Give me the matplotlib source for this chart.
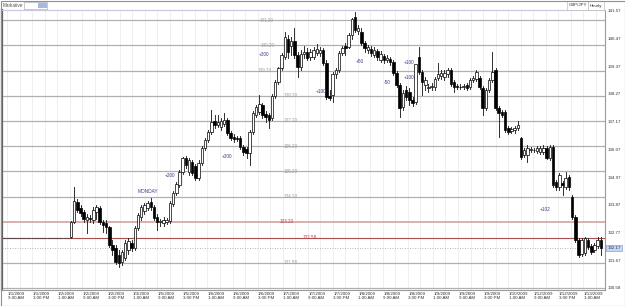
import matplotlib
matplotlib.use("Agg")
import matplotlib.pyplot as plt
import numpy as np
from matplotlib.patches import Rectangle
import matplotlib.transforms as mtrans

plt.rcParams['font.family'] = ['Liberation Sans', 'DejaVu Sans']

# ---------------- data ----------------
flat_price = 132.58
n_flat = 21

opens = [132.60, 133.20, 133.99, 133.75, 133.59, 133.28, 133.36, 133.28, 133.59, 133.75,
         133.20, 133.16, 133.00, 132.29, 132.17, 131.89, 131.62, 131.77, 132.09, 132.37,
         132.17, 132.96, 133.39, 133.63, 133.75, 133.99, 133.79, 133.39, 133.20, 133.16,
         133.20, 133.24, 133.91, 134.34, 134.66, 135.18, 135.73, 135.18, 135.57, 135.41,
         134.94, 135.53, 136.12, 136.44, 136.76, 137.19, 137.03, 136.95, 137.07, 137.23,
         136.72, 136.56, 136.52, 136.52, 136.16, 136.08, 135.92, 136.76, 137.43, 137.55,
         137.82, 137.47, 137.43, 137.31, 138.18, 138.73, 139.29, 139.72, 140.47, 140.19,
         140.39, 139.80, 139.36, 139.84, 139.92, 139.72, 139.72, 139.88, 139.88, 140.00,
         139.48, 138.20, 138.22, 139.05, 139.21, 139.88, 140.19, 140.12, 140.59, 141.34,
         140.75, 140.71, 140.31, 140.00, 140.04, 139.80, 139.96, 139.60, 139.76, 139.60,
         139.64, 139.52, 139.09, 138.61, 137.74, 138.42, 138.34, 138.02, 137.94, 139.72,
         139.13, 138.61, 138.49, 138.53, 138.53, 138.89, 138.97, 138.93, 139.05, 139.21,
         138.73, 138.57, 138.56, 138.53, 138.61, 138.53, 138.81, 138.85, 138.89, 138.49,
         137.70, 138.42, 138.81, 139.21, 137.70, 137.55, 137.55, 136.91, 136.79, 136.83,
         136.91, 136.52, 135.85, 135.85, 136.04, 136.04, 136.00, 135.96, 135.96, 136.12,
         135.73, 136.16, 134.78, 134.58, 134.74, 134.58, 134.98, 134.19, 133.39, 132.49,
         131.93, 131.97, 132.49, 132.25, 132.09, 132.25, 132.49]
highs = [133.24, 134.58, 134.11, 133.87, 133.67, 133.51, 133.47, 133.79, 133.87, 133.83,
         133.28, 133.28, 133.04, 132.49, 132.29, 132.09, 132.09, 132.49, 132.57, 132.49,
         133.04, 133.55, 133.87, 133.95, 134.03, 134.15, 133.87, 133.51, 133.32, 133.39,
         133.36, 134.03, 134.42, 134.78, 135.25, 135.77, 135.81, 135.73, 135.65, 135.49,
         135.65, 136.20, 136.52, 136.83, 137.62, 137.43, 137.43, 137.31, 137.51, 137.31,
         136.79, 136.68, 136.60, 136.60, 136.24, 136.16, 136.83, 137.58, 137.82, 138.22,
         137.90, 137.58, 137.51, 138.26, 138.81, 139.36, 139.88, 140.71, 140.59, 140.51,
         140.87, 139.92, 140.00, 140.19, 140.08, 140.04, 140.12, 140.27, 140.12, 140.08,
         139.60, 138.42, 139.13, 139.29, 139.96, 140.19, 140.31, 140.67, 141.30, 141.54,
         141.02, 140.87, 140.39, 140.23, 140.16, 140.12, 140.04, 139.96, 139.84, 139.80,
         139.72, 139.60, 139.17, 138.69, 138.42, 138.57, 138.49, 138.14, 139.29, 140.12,
         139.21, 138.93, 138.65, 138.69, 138.93, 139.48, 139.21, 139.21, 139.29, 139.29,
         138.81, 138.65, 138.65, 138.65, 138.69, 138.89, 138.97, 139.21, 138.97, 138.57,
         138.49, 138.89, 139.92, 139.29, 137.78, 137.62, 137.62, 136.99, 136.95, 136.99,
         137.19, 136.56, 136.12, 136.24, 136.16, 136.12, 136.20, 136.20, 136.24, 136.20,
         136.24, 136.24, 134.86, 135.14, 134.82, 135.18, 135.06, 134.26, 133.47, 132.57,
         132.57, 132.60, 132.57, 132.33, 132.37, 132.60, 132.60]
lows = [132.57, 133.16, 133.59, 133.43, 133.20, 132.76, 133.20, 133.16, 133.32, 133.12,
        132.80, 132.76, 132.21, 131.89, 131.54, 131.42, 131.50, 131.70, 131.93, 132.05,
        132.09, 132.88, 133.28, 133.51, 133.67, 133.67, 133.28, 132.88, 133.04, 133.04,
        133.12, 133.16, 133.83, 134.26, 134.58, 135.10, 135.33, 135.06, 135.06, 134.86,
        134.86, 135.45, 136.04, 136.36, 136.68, 136.91, 136.95, 136.83, 136.99, 136.64,
        136.44, 136.36, 136.40, 136.08, 135.85, 135.73, 135.45, 136.68, 137.35, 137.47,
        137.31, 137.15, 136.91, 137.23, 138.10, 138.65, 139.21, 139.64, 139.68, 139.80,
        139.68, 138.93, 139.21, 139.68, 139.60, 139.60, 139.64, 139.80, 139.76, 139.40,
        138.06, 138.02, 137.94, 138.89, 139.13, 139.80, 139.80, 140.08, 140.47, 140.71,
        140.63, 140.23, 139.92, 139.88, 139.76, 139.72, 139.60, 139.52, 139.48, 139.52,
        139.40, 139.01, 138.53, 137.35, 137.62, 138.02, 137.82, 137.78, 137.86, 139.05,
        138.22, 138.42, 138.34, 138.42, 138.42, 138.81, 138.85, 138.81, 138.93, 138.57,
        138.34, 138.45, 138.45, 138.45, 138.42, 138.45, 138.73, 138.77, 138.45, 137.43,
        137.62, 138.34, 138.73, 137.62, 136.56, 137.35, 136.76, 136.68, 136.72, 136.72,
        136.83, 135.69, 135.77, 135.57, 135.96, 135.96, 135.92, 135.88, 135.88, 135.69,
        135.65, 134.58, 134.46, 134.46, 134.26, 134.50, 134.46, 133.32, 132.41, 131.81,
        131.85, 131.89, 132.13, 131.93, 132.01, 132.17, 131.89]
closes = [133.20, 134.03, 133.67, 133.55, 133.32, 133.39, 133.32, 133.67, 133.79, 133.20,
          133.08, 133.00, 132.29, 132.09, 131.62, 131.58, 132.01, 132.37, 132.45, 132.17,
          132.96, 133.47, 133.79, 133.87, 133.95, 133.79, 133.36, 133.20, 133.21, 133.28,
          133.28, 133.95, 134.34, 134.70, 135.18, 135.73, 135.45, 135.65, 135.14, 134.94,
          135.53, 136.12, 136.44, 136.76, 137.15, 137.03, 137.15, 137.19, 137.23, 136.72,
          136.52, 136.50, 136.48, 136.16, 135.96, 135.92, 136.76, 137.51, 137.74, 137.86,
          137.43, 137.35, 137.23, 138.18, 138.73, 139.29, 139.80, 140.51, 139.92, 140.39,
          139.80, 139.36, 139.84, 139.92, 139.68, 139.92, 140.00, 140.04, 140.00, 139.48,
          138.14, 138.12, 139.05, 139.21, 139.88, 140.08, 140.08, 140.59, 141.26, 140.79,
          140.87, 140.31, 140.08, 140.12, 139.88, 140.00, 139.72, 139.84, 139.60, 139.68,
          139.52, 139.09, 138.61, 137.70, 138.30, 138.14, 138.02, 137.90, 139.44, 139.13,
          138.73, 138.81, 138.53, 138.57, 138.85, 139.05, 139.09, 139.09, 139.21, 138.65,
          138.53, 138.56, 138.53, 138.57, 138.49, 138.81, 138.89, 139.13, 138.53, 137.70,
          138.42, 138.81, 139.13, 137.70, 137.51, 137.43, 136.83, 136.76, 136.87, 136.91,
          137.03, 135.77, 136.04, 136.12, 136.08, 136.05, 136.12, 136.12, 136.12, 135.73,
          136.16, 134.66, 134.58, 135.06, 134.66, 134.94, 134.58, 133.39, 132.49, 131.89,
          132.49, 132.57, 132.21, 132.01, 132.29, 132.49, 132.17]

x_labels = ["1/1/2009\n9:00 AM", "1/1/2009\n3:00 PM", "1/2/2009\n1:00 AM", "1/2/2009\n9:00 AM",
            "1/2/2009\n3:00 PM", "1/3/2009\n1:00 AM", "1/5/2009\n9:00 AM", "1/5/2009\n3:00 PM",
            "1/6/2009\n1:00 AM", "1/6/2009\n9:00 AM", "1/6/2009\n3:00 PM", "1/7/2009\n1:00 AM",
            "1/7/2009\n9:00 AM", "1/7/2009\n3:00 PM", "1/8/2009\n1:00 AM", "1/8/2009\n9:00 AM",
            "1/8/2009\n3:00 PM", "1/9/2009\n1:00 AM", "1/9/2009\n9:00 AM", "1/9/2009\n3:00 PM",
            "1/10/2009\n1:00 AM", "1/12/2009\n9:00 AM", "1/12/2009\n3:00 PM", "1/13/2009\n1:00 AM"]

y_ticks = [141.57, 140.47, 139.37, 138.27, 137.17, 136.07, 134.97, 133.87, 132.77, 131.67, 130.58]
gray_levels = [141.20, 140.20, 139.20, 138.20, 137.20, 136.20, 135.20, 134.20, 131.58, 130.58]
level_1 = 133.20
level_2 = 132.58
last_price = 132.17

notes = ["MONDAY", "+200", "+300", "+300", "+100", "+50", "-50", "+100", "+100", "+102"]
note_bar = [45.0, 52.1, 69.9, 81.5, 99.2, 111.5, 120.2, 126.8, 126.8, 169.6]
note_price = [134.42, 135.02, 135.81, 139.84, 138.38, 139.56, 138.73, 139.52, 138.93, 133.71]

# ---------------- figure ----------------
W, H = 625, 306
fig = plt.figure(figsize=(W / 100, H / 100), dpi=100)
fig.patch.set_facecolor('white')
ax = fig.add_axes([2 / W, 16 / H, 603 / W, 280 / H])

o = np.r_[np.full(n_flat, flat_price), opens]
h = np.r_[np.full(n_flat, flat_price), highs]
l = np.r_[np.full(n_flat, flat_price), lows]
c = np.r_[np.full(n_flat, flat_price), closes]
n = len(c)

ax.set_xlim(-0.6, 188.3)
ax.set_ylim(130.50, 141.60)

# vertical grid
major = np.linspace(0.97, 181.5, len(x_labels))
step = major[1] - major[0]
minor = np.r_[major + step / 2, major[0] - step / 2]
for xv in np.r_[major, minor]:
    ax.axvline(xv, color='#ececf0', lw=0.6, zorder=0)

# horizontal levels
for lv in gray_levels:
    ax.axhline(lv, color='#b0b0b0', lw=0.9, zorder=1)
ax.axhline(level_1, color='#d8a8a8', lw=1.3, zorder=1)
ax.axhline(level_2, color='#a85050', lw=0.8, zorder=1)
ax.axhline(last_price, color='#a0a0a0', lw=0.6, ls=(0, (1, 2)), zorder=1)

lvl_txt = [(82.2, 141.20), (82.6, 140.20), (81.8, 139.20), (89.7, 138.20), (89.7, 137.20),
           (89.7, 136.20), (89.7, 135.20), (89.7, 134.20), (89.7, 131.58)]
for xv, lv in lvl_txt:
    ax.text(xv, lv, f"{lv:.2f}", fontsize=3.3, color='#a0a0a0', ha='center', va='center', zorder=2)
ax.text(88.6, level_1, f"{level_1:.2f}", fontsize=3.3, color='#c04848', ha='center', va='center', zorder=2)
ax.text(95.8, level_2, f"{level_2:.2f}", fontsize=3.3, color='#c04848', ha='center', va='center', zorder=2)

# candles
bw = 0.78
for i in range(n):
    if h[i] == l[i]:
        ax.plot([i - 0.32, i + 0.32], [c[i], c[i]], color='#604848', lw=0.8, zorder=3)
        continue
    ax.plot([i, i], [l[i], h[i]], color='#202020', lw=0.65, zorder=3)
    up = c[i] >= o[i]
    bottom = min(o[i], c[i])
    height = max(abs(c[i] - o[i]), 0.02)
    ax.add_patch(Rectangle((i - bw / 2, bottom), bw, height,
                           facecolor='white' if up else 'black', edgecolor='black',
                           lw=0.5, zorder=4))

# notes
for t, xb, yp in zip(notes, note_bar, note_price):
    ax.text(xb, yp, t, fontsize=3.4, color='#3c3c8c', ha='center', va='center', zorder=5)

# axes styling
ax.set_xticks(major)
ax.set_xticklabels(x_labels, fontsize=3.2, color='#303030', ha='left', linespacing=1.1)
ax.tick_params(axis='x', length=0, pad=1.5)
ax.yaxis.tick_right()
ax.set_yticks(y_ticks)
ax.set_yticklabels([f"{v:.2f}" for v in y_ticks], fontsize=3.2, color='#303030')
ax.tick_params(axis='y', length=0, pad=2)
ax.spines['top'].set_color('#c8c8dc')
ax.spines['top'].set_linewidth(0.8)
for s in ['right', 'bottom']:
    ax.spines[s].set_color('#9a9a9a')
    ax.spines[s].set_linewidth(0.8)
ax.spines['left'].set_color('#606060')
ax.spines['left'].set_linewidth(1.6)

offset = mtrans.ScaledTranslation(0.5 / 100, 0, fig.dpi_scale_trans)
for lab in ax.get_xticklabels():
    lab.set_transform(lab.get_transform() + offset)

# current price box
trans = mtrans.blended_transform_factory(ax.transAxes, ax.transData)
ax.text(1.004, last_price, f"{last_price:.2f}", transform=trans, fontsize=3.2, color='#203060',
        ha='left', va='center', zorder=6,
        bbox=dict(boxstyle='square,pad=0.25', facecolor='#c8d8f0', edgecolor='#7890c0', lw=0.4))

# header
fig.text(3 / W, 1 - 5.5 / H, "Markative", fontsize=3.3, color='#505050', ha='left', va='center')
fig.add_artist(Rectangle((24 / W, 1 - 8.5 / H), 23 / W, 6 / H, transform=fig.transFigure,
                         facecolor='white', edgecolor='#a0a0b0', lw=0.4))
fig.add_artist(Rectangle((38 / W, 1 - 8 / H), 8.5 / W, 5 / H, transform=fig.transFigure,
                         facecolor='#a8b8e0', edgecolor='none'))
fig.add_artist(Rectangle((567 / W, 1 - 10 / H), 21 / W, 9 / H, transform=fig.transFigure,
                         facecolor='white', edgecolor='#b0b0b0', lw=0.4))
fig.add_artist(Rectangle((588 / W, 1 - 10 / H), 16 / W, 9 / H, transform=fig.transFigure,
                         facecolor='white', edgecolor='#b0b0b0', lw=0.4))
fig.text(577.5 / W, 1 - 5.5 / H, "GBP/JPY", fontsize=3.2, color='#303030', ha='center', va='center')
fig.text(596 / W, 1 - 5.5 / H, "Hourly", fontsize=3.2, color='#303030', ha='center', va='center')

# outer border
fig.add_artist(Rectangle((0.5 / W, 0.5 / H), (W - 1) / W, (H - 1) / H, transform=fig.transFigure,
                         facecolor='none', edgecolor='#909090', lw=0.8))

fig.savefig("out.png", dpi=100)
